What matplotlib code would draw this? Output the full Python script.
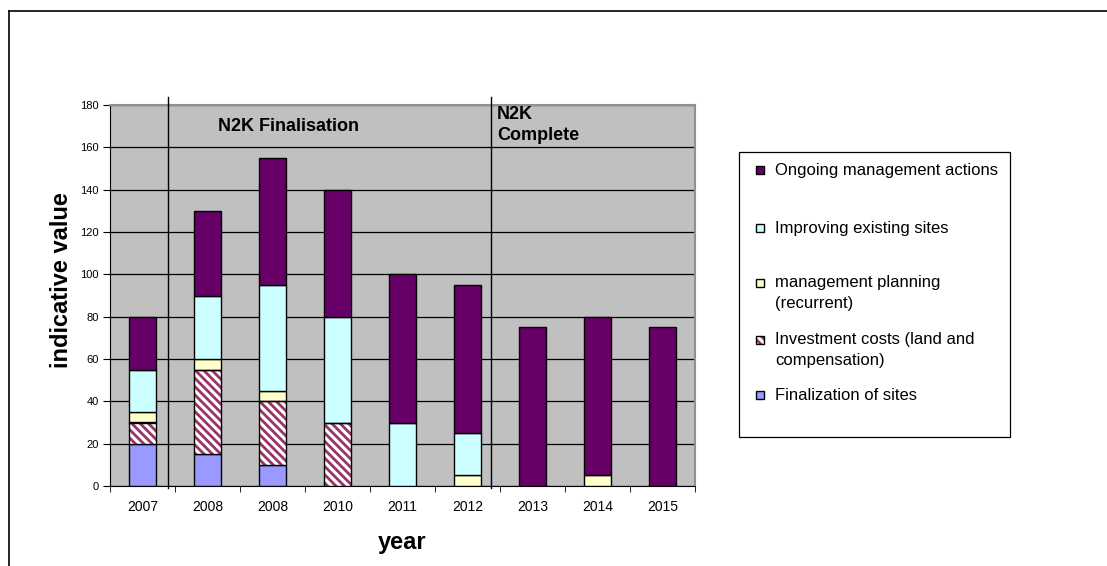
import matplotlib
matplotlib.use("Agg")
import matplotlib.pyplot as plt
from matplotlib.lines import Line2D
from matplotlib.patches import Rectangle
import numpy as np

plt.rcParams['font.family'] = ['Liberation Sans', 'DejaVu Sans']
plt.rcParams['hatch.linewidth'] = 2.0

years = ["2007", "2008", "2008", "2010", "2011", "2012", "2013", "2014", "2015"]
finalization = [20, 15, 10, 0, 0, 0, 0, 0, 0]
investment = [10, 40, 30, 30, 0, 0, 0, 0, 0]
planning = [5, 5, 5, 0, 0, 5, 0, 5, 0]
improving = [20, 30, 50, 50, 30, 20, 0, 0, 0]
ongoing = [25, 40, 60, 60, 70, 70, 75, 75, 75]

labels = ["Finalization of sites", "Investment costs (land and\ncompensation)",
          "management planning\n(recurrent)", "Improving existing sites",
          "Ongoing management actions"]
colors = ["#9999FF", "#FFFFFF", "#FFFFCC", "#CCFFFF", "#660066"]
hatch_col = "#993366"
HATCH = "\\" * 4

W, H = 1107, 566
fig = plt.figure(figsize=(W / 100, H / 100), dpi=100)
ax = fig.add_axes([110 / W, 1 - 486 / H, 585 / W, 381 / H])
ax.set_facecolor("#C0C0C0")

x = np.arange(len(years))
w = 0.43
bottom = np.zeros(len(years))
series = [finalization, investment, planning, improving, ongoing]
for i, vals in enumerate(series):
    vals = np.array(vals, dtype=float)
    m = vals > 0
    if i == 1:
        ax.bar(x[m], vals[m], w, bottom=bottom[m], color="white",
               edgecolor=hatch_col, hatch=HATCH, lw=0, zorder=3)
        ax.bar(x[m], vals[m], w, bottom=bottom[m], fill=False,
               edgecolor="black", lw=1, zorder=4)
    else:
        ax.bar(x[m], vals[m], w, bottom=bottom[m], color=colors[i],
               edgecolor="black", lw=1, zorder=3)
    bottom += vals

ax.set_xlim(-0.5, len(years) - 0.5)
ax.set_ylim(0, 180)
ax.set_yticks(np.arange(0, 181, 20))
ax.yaxis.grid(True, color="black", lw=0.9, zorder=1)
ax.set_axisbelow(True)
ax.set_xticks(x)
ax.set_xticklabels(years, fontsize=10)
ax.set_xticks(np.arange(-0.5, len(years), 1), minor=True)
ax.tick_params(axis="x", which="major", length=0, pad=10)
ax.tick_params(axis="x", which="minor", length=4, color="black")
ax.tick_params(axis="y", labelsize=8, length=5, pad=3)

for s in ["top", "right"]:
    ax.spines[s].set_color("#909090")
    ax.spines[s].set_linewidth(1.5)
for s in ["left", "bottom"]:
    ax.spines[s].set_color("black")

for xv in [0.39, 5.36]:
    ax.axvline(xv, ymin=-0.004, ymax=1.02, color="black", lw=1, clip_on=False, zorder=5)

ax.text(1.16, 170, "N2K Finalisation", fontsize=13, fontweight="bold", va="center")
ax.text(5.45, 170.7, "N2K\nComplete", fontsize=13, fontweight="bold", va="center",
        linespacing=1.28)

ax.set_ylabel("indicative value", fontsize=17, fontweight="bold")
ax.yaxis.set_label_coords(-0.064, 0.54)
ax.set_xlabel("year", fontsize=17, fontweight="bold", labelpad=12)

# legend box drawn in figure pixels, entries ordered top to bottom
fig.add_artist(Rectangle((739 / W, 1 - 437 / H), 271 / W, 285 / H,
                         transform=fig.transFigure, facecolor="white",
                         edgecolor="black", lw=0.9))
entry_y = [170, 228, 293, 350, 395]
for k, i in enumerate(range(4, -1, -1)):
    yc = entry_y[k]
    nlines = labels[i].count("\n") + 1
    ytop = yc - (nlines - 1) * 10.5
    if i == 1:
        fig.add_artist(Rectangle((756 / W, 1 - (ytop + 4) / H), 8 / W, 8 / H,
                                 transform=fig.transFigure, facecolor="white",
                                 edgecolor=hatch_col, hatch=HATCH, lw=0))
        fig.add_artist(Rectangle((756 / W, 1 - (ytop + 4) / H), 8 / W, 8 / H,
                                 transform=fig.transFigure, fill=False,
                                 edgecolor="black", lw=1))
    else:
        fig.add_artist(Rectangle((756 / W, 1 - (ytop + 4) / H), 8 / W, 8 / H,
                                 transform=fig.transFigure, facecolor=colors[i],
                                 edgecolor="black", lw=1))
    fig.text(775 / W, 1 - yc / H, labels[i], fontsize=12, va="center",
             linespacing=1.45)

fig.add_artist(Line2D([9 / W, 1.0], [1 - 11 / H, 1 - 11 / H], color="black", lw=1.2))
fig.add_artist(Line2D([9 / W, 9 / W], [0, 1 - 11 / H], color="black", lw=1.2))

fig.savefig("out.png", dpi=100)
